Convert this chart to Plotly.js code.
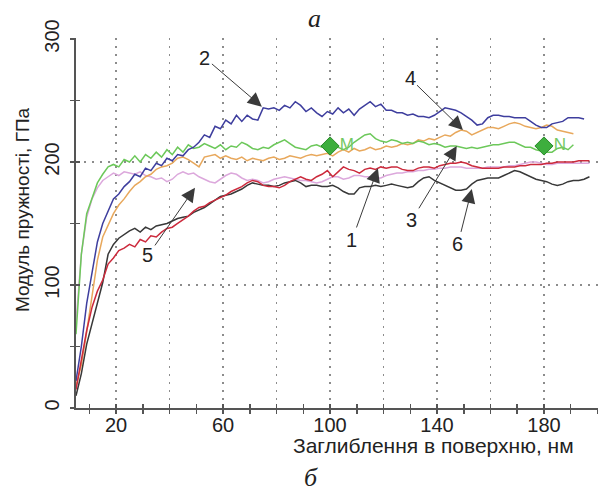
<!DOCTYPE html>
<html><head><meta charset="utf-8">
<script src="https://cdn.plot.ly/plotly-3.0.1.min.js"></script>
<style>html,body{margin:0;padding:0;background:#fff}#chart{width:610px;height:496px}</style>
</head><body><div id="chart"></div>
<script>
// Depth (nm)
const depth = [5,7,9,11,13,15,17,19,21,23,25,27,29,31,33,35,37,39,41,43,45,47,49,51,53,55,57,59,61,63,65,67,69,71,73,75,77,79,81,83,85,87,89,91,93,95,97,99,101,103,105,107,109,111,113,115,117,119,121,123,125,127,129,131,133,135,137,139,141,143,145,147,149,151,153,155,157,159,161,163,165,167,169,171,173,175,177,179,181,183,185,187,189,191,193,195,197];

// Elastic modulus (GPa) per curve
const curve1 = [15,38,63,82,95,104,117,122,128,130,133,131,137,135,140,139,143,146,147,150,153,156,160,163,164,167,169,171,173,176,178,180,183,185,184,181,180,180,179,181,184,186,188,186,185,188,190,193,188,192,196,194,193,191,194,195,194,196,195,196,196,194,193,193,195,196,196,195,197,198,199,199,200,199,197,196,195,195,195,195,196,196,196,197,197,198,198,198,199,199,200,200,200,200,201,201,201];
const curve2 = [22,50,85,110,135,150,160,170,174,180,184,190,188,195,193,199,197,203,201,206,205,210,212,216,222,220,229,227,234,231,238,233,238,235,234,244,243,244,242,246,244,249,246,241,244,240,237,241,239,244,240,243,238,243,246,249,245,247,242,242,240,240,238,239,237,237,236,238,241,244,243,242,240,237,234,230,231,236,238,238,237,237,236,236,236,233,230,228,228,231,232,233,236,236,236,235];
const curve3 = [60,125,158,170,183,190,196,198,196,202,200,205,200,206,203,208,204,210,206,212,208,214,211,212,215,213,211,214,210,213,212,216,214,211,210,212,211,214,216,218,215,212,211,210,213,214,212,212,214,212,210,212,216,219,222,223,219,217,216,218,217,215,216,215,217,216,214,215,214,212,213,213,212,211,212,211,212,213,214,214,215,216,216,214,212,212,210,209,208,208,211,212,210,214];
const curve4 = [18,35,62,92,120,139,148,158,165,170,176,181,184,188,190,194,196,197,199,203,204,202,199,196,204,205,206,203,205,203,202,204,201,203,202,201,203,204,202,203,205,204,203,205,206,205,206,207,205,208,210,208,211,209,210,212,210,211,213,212,213,215,214,215,218,217,219,218,220,222,221,224,226,225,222,224,226,228,228,227,229,231,232,231,229,228,227,228,230,229,226,225,224,223];
const curve5 = [70,125,155,170,179,185,188,191,189,192,191,190,192,189,188,186,187,184,186,190,192,190,191,188,186,184,183,186,189,191,190,187,185,186,185,183,184,186,187,188,187,186,185,185,184,183,184,186,188,188,186,187,189,189,188,188,187,187,189,190,191,191,192,192,193,193,194,194,195,195,196,196,196,195,195,195,195,196,196,196,196,197,197,198,199,200,200,199,198,198,199,199,199,199,199,199,199];
const curve6 = [10,28,52,68,84,102,125,133,138,141,144,146,143,147,145,148,149,150,152,154,155,156,159,161,163,166,169,172,173,174,176,178,181,183,182,181,181,180,181,183,184,185,183,180,181,181,180,180,181,179,176,174,174,179,180,180,181,180,181,182,181,180,179,180,184,187,188,185,183,181,179,177,177,178,182,185,186,187,187,187,189,191,193,192,190,188,186,185,184,182,181,182,184,185,185,186,188];

// Reference points M and N
const markerDepth = [100, 180];
const markerModulus = [213, 213];
const markerLabels = ['M', 'N'];

const curves = [
  {y: curve5, color: '#dca8dc'},
  {y: curve4, color: '#e8a85c'},
  {y: curve3, color: '#6cc85a'},
  {y: curve2, color: '#3e3e9e'},
  {y: curve6, color: '#383838'},
  {y: curve1, color: '#cc2a3c'}
];

const traces = curves.map(c => ({
  type: 'scatter', mode: 'lines',
  x: depth.slice(0, c.y.length), y: c.y,
  line: {color: c.color, width: 1.5},
  hoverinfo: 'skip', showlegend: false
}));

traces.push({
  type: 'scatter', mode: 'markers+text',
  x: markerDepth, y: markerModulus, text: markerLabels,
  textposition: 'middle right',
  textfont: {family: 'Liberation Sans, Arial, sans-serif', size: 17, color: '#74c864'},
  marker: {symbol: 'diamond', size: 14, color: '#3dae3d', line: {color: '#2a8a2a', width: 1}},
  xaxis: 'x2', yaxis: 'y2', showlegend: false, hoverinfo: 'skip'
});

const sans = 'Liberation Sans, Arial, sans-serif';
const serif = 'Liberation Serif, Times New Roman, serif';
const xr = [5, 200.2], yr = [0, 300.8];
const gridStyle = {showgrid: true, gridcolor: '#8c8c8c', gridwidth: 1.5, griddash: '2px,6px'};

function arrowNote(text, x, y, ax, ay) {
  return {text: text, x: x, y: y, ax: ax, ay: ay, axref: 'x', ayref: 'y', xref: 'x', yref: 'y',
    showarrow: true, arrowhead: 2, arrowsize: 2.8, arrowwidth: 1, arrowcolor: '#3a3a3a',
    font: {family: sans, size: 20, color: '#222'}};
}

const layout = {
  width: 610, height: 496,
  margin: {l: 76, r: 12, t: 38, b: 88},
  paper_bgcolor: '#fff', plot_bgcolor: '#fff',
  showlegend: false,
  xaxis: Object.assign({
    range: xr, tickmode: 'array',
    tickvals: [20,40,60,80,100,120,140,160,180,200],
    ticktext: ['20','','60','','100','','140','','180',''],
    ticks: 'outside', ticklen: 4, tickwidth: 1.5, tickcolor: '#555', ticklabelstandoff: -6,
    minor: {tickmode: 'array', tickvals: [10,30,50,70,90,110,130,150,170,190], ticks: 'outside', ticklen: 4, tickwidth: 1.5, tickcolor: '#555', showgrid: false},
    showline: true, linecolor: '#555', linewidth: 2, zeroline: false,
    tickfont: {family: sans, size: 20, color: '#222'}
  }, gridStyle),
  yaxis: Object.assign({
    range: yr, tickmode: 'array', tickvals: [0,100,200,300], tickangle: -90,
    ticks: 'outside', ticklen: 4, tickwidth: 1.5, tickcolor: '#555', ticklabelstandoff: 3,
    minor: {tickmode: 'array', tickvals: [50,150,250], ticks: 'outside', ticklen: 4, tickwidth: 1.5, tickcolor: '#555', showgrid: false},
    showline: true, linecolor: '#555', linewidth: 2, zeroline: false,
    tickfont: {family: sans, size: 20, color: '#222'}
  }, gridStyle),
  xaxis2: {overlaying: 'x', range: xr, tickmode: 'array',
    tickvals: [10,20,30,40,50,60,70,80,90,100,110,120,130,140,150,160,170,180,190,200],
    ticks: 'inside', ticklen: 4, tickwidth: 1.5, tickcolor: '#555',
    showticklabels: false, showgrid: false, zeroline: false, showline: false, side: 'bottom'},
  yaxis2: {overlaying: 'y', range: yr, tickmode: 'array', tickvals: [0,50,100,150,200,250,300],
    ticks: 'inside', ticklen: 4, tickwidth: 1.5, tickcolor: '#555',
    showticklabels: false, showgrid: false, zeroline: false, showline: false, side: 'left'},
  annotations: [
    {text: '<i>а</i>', xref: 'paper', yref: 'paper', x: 0.456, y: 1.054, xanchor: 'center', yanchor: 'middle', showarrow: false,
     font: {family: serif, size: 26, color: '#222'}},
    {text: '<i>б</i>', xref: 'paper', yref: 'paper', x: 0.450, y: -0.1865, xanchor: 'center', yanchor: 'middle', showarrow: false,
     font: {family: serif, size: 26, color: '#222'}},
    {text: 'Заглиблення в поверхню, нм', xref: 'paper', yref: 'paper', x: 0.684, y: -0.1027, xanchor: 'center', yanchor: 'middle', showarrow: false,
     font: {family: sans, size: 21, color: '#222'}},
    {text: 'Модуль пружності, ГПа', xref: 'paper', yref: 'paper', x: -0.1034, y: 0.535, xanchor: 'center', yanchor: 'middle', textangle: -90, showarrow: false,
     font: {family: sans, size: 19, color: '#222'}},
    arrowNote('1', 117.9, 195, 108.2, 136.6),
    arrowNote('2', 74.5, 245, 53.2, 284.6),
    arrowNote('3', 147.4, 213, 130.6, 153),
    arrowNote('4', 149.7, 226, 129.9, 268),
    arrowNote('5', 49.5, 179, 31.9, 124),
    arrowNote('6', 153, 178, 147.8, 133)
  ]
};

Plotly.newPlot('chart', traces, layout, {staticPlot: true, displayModeBar: false});
</script>
</body></html>
